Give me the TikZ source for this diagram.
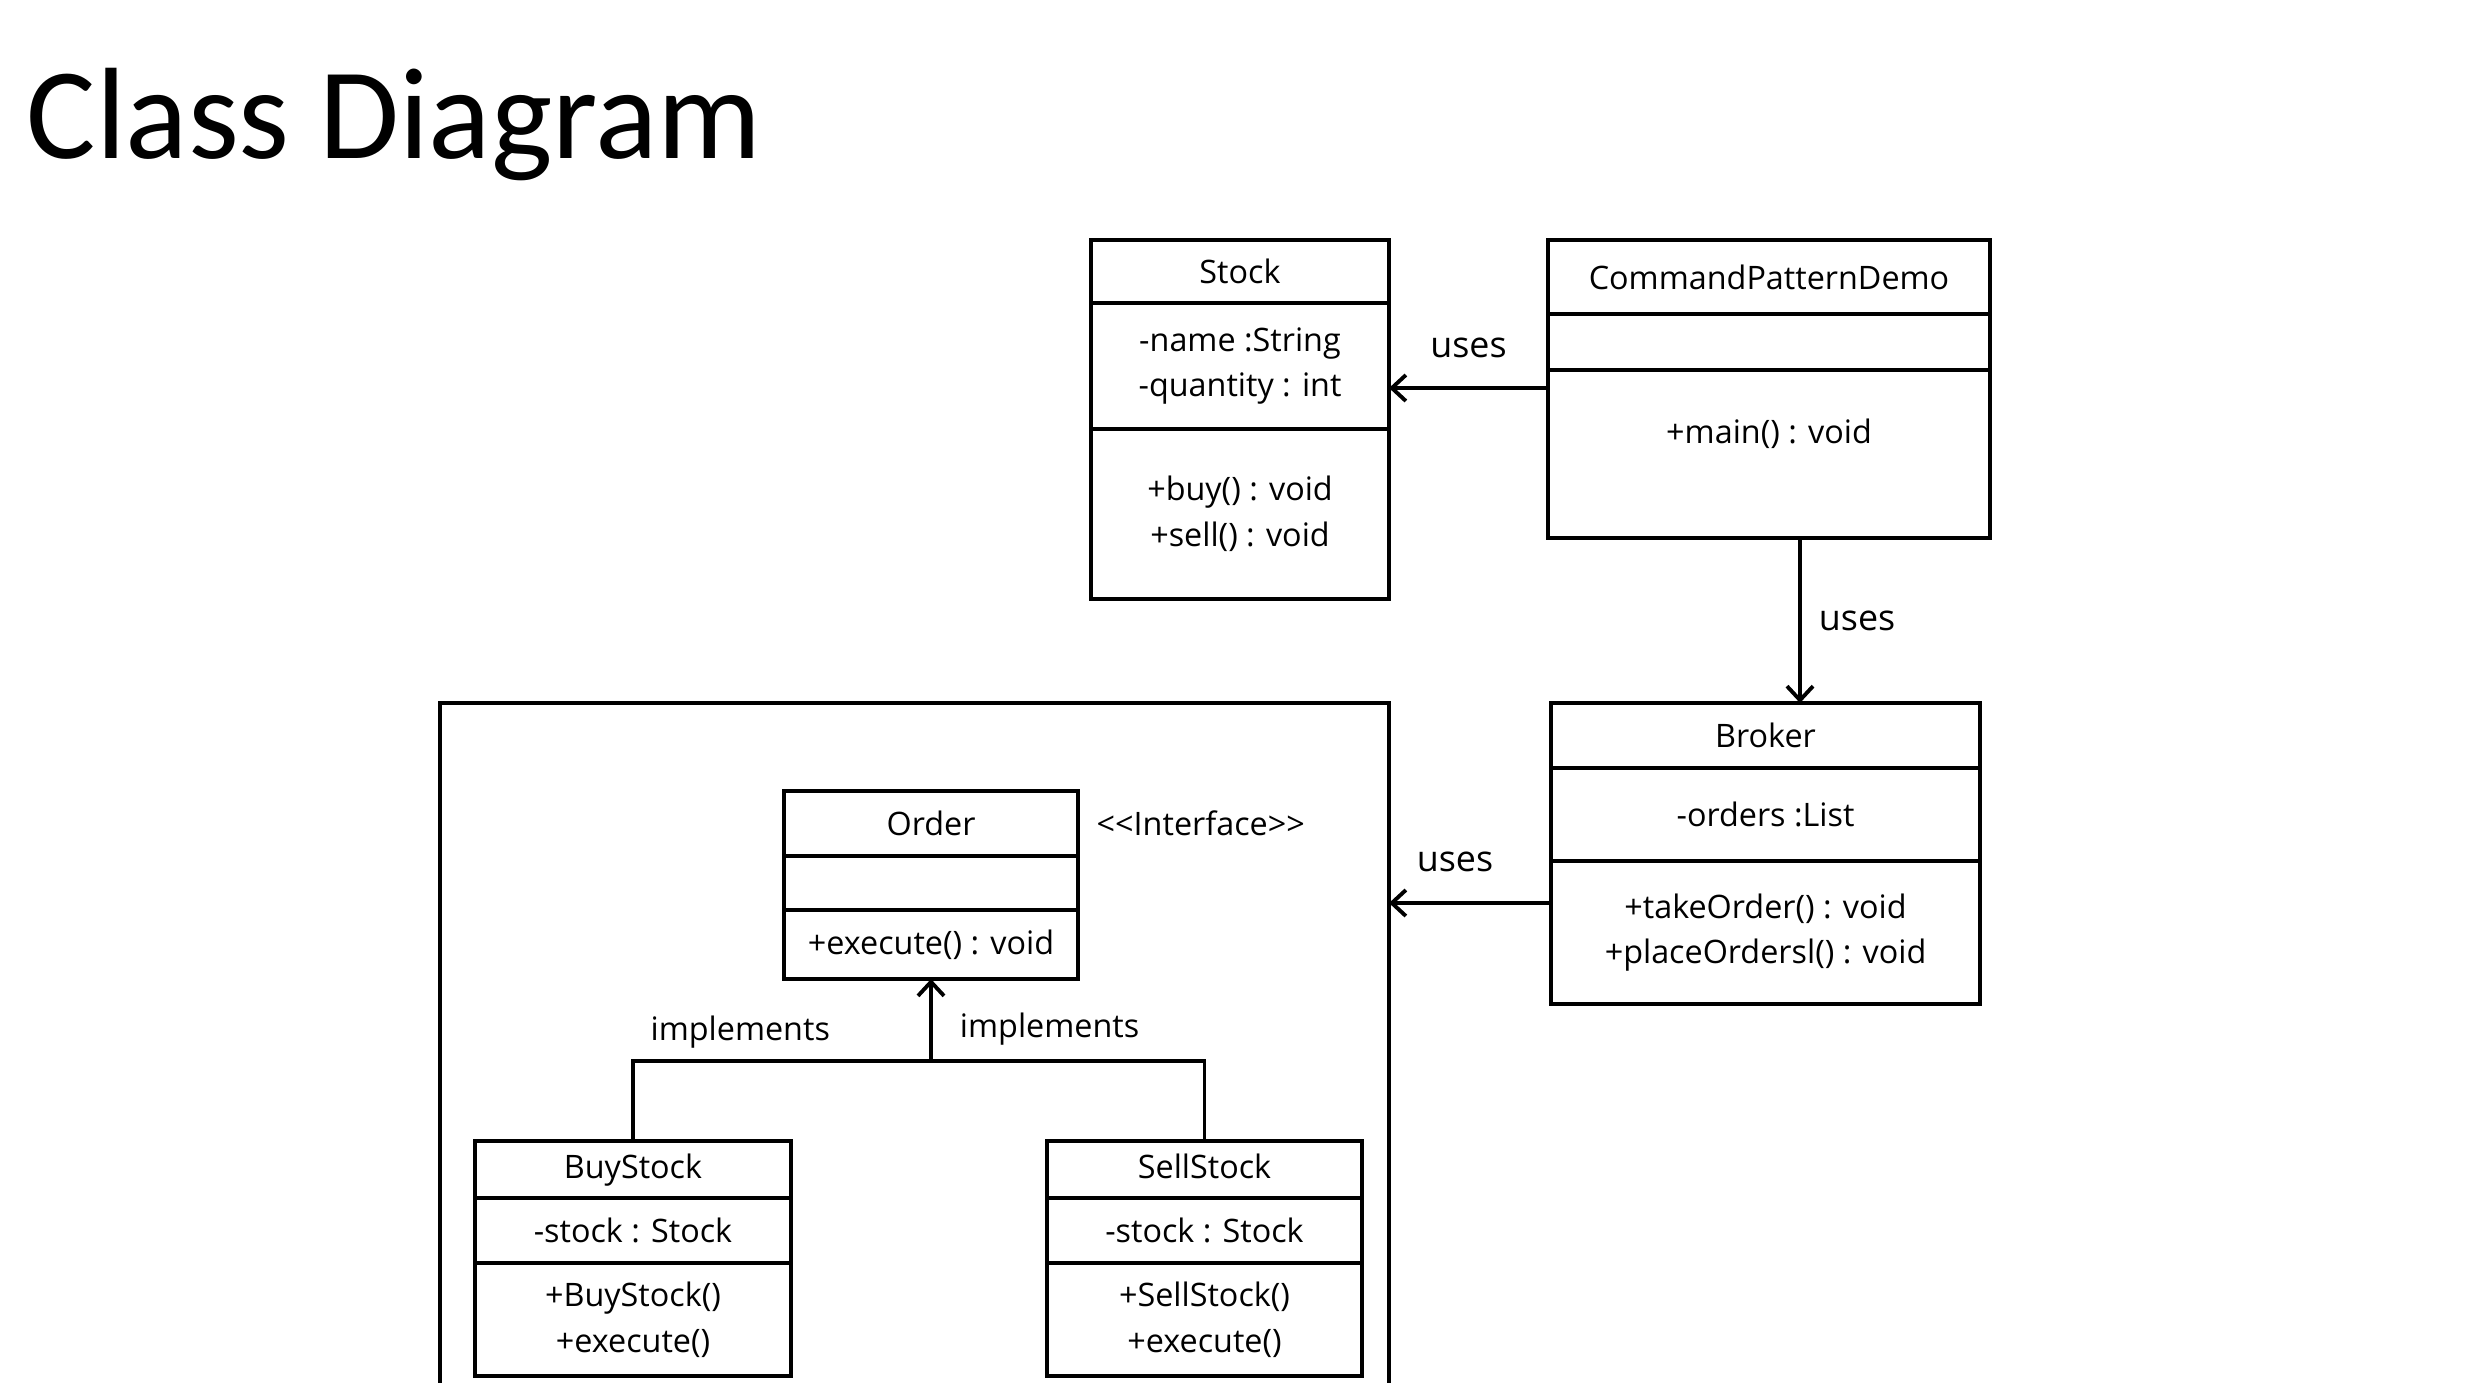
\documentclass[tikz,border=0pt]{standalone}
\usepackage{fontspec}
\setmainfont{Open Sans}
\newfontfamily\titlefont{Carlito}
\usepackage{tikz}
\usetikzlibrary{positioning,calc,arrows.meta}
\newcommand{\boxfont}{\fontsize{9.2}{13}\selectfont}
\newcommand{\usesfont}{\fontsize{10.2}{13}\selectfont}
\tikzset{CLASS/.style={rectangle,draw,line width=1.1pt,outer sep=0pt,inner sep=0pt,align=flush center,font=\boxfont,anchor=north}}
\tikzset{FRAME/.style={rectangle,draw,line width=1.1pt,outer sep=0pt,anchor=north}}
\tikzset{ARROW/.style={line width=1.1pt, -{Straight Barb[length=1.4mm,width=2.6mm,line width=1.1pt]}}}
\tikzset{LINE/.style={line width=1.1pt}}
\tikzset{LABEL/.style={inner sep=0pt,font=\boxfont}}
\tikzset{USES/.style={inner sep=0pt,font=\usesfont}}

\begin{document}
\begin{tikzpicture}

\useasboundingbox (0,0) rectangle (24.72,-13.82);

\node[anchor=base west, inner sep=0pt, font=\titlefont\fontsize{37}{40}\selectfont] (n_title) at (0.26,-1.58) {Class Diagram};

\node[CLASS, minimum width=2.98cm, minimum height=0.63cm] (n_stock) at (12.40,-2.40) {Stock};
\node[CLASS, minimum width=2.98cm, minimum height=1.26cm, below=0pt of n_stock] (n_stock_attr) {-name :String\\-quantity : int};
\node[CLASS, minimum width=2.98cm, minimum height=1.70cm, below=0pt of n_stock_attr] (n_stock_ops) {+buy() : void\\+sell() : void};

\node[CLASS, minimum width=4.42cm, minimum height=0.74cm] (n_demo) at (17.69,-2.40) {CommandPatternDemo};
\node[CLASS, minimum width=4.42cm, minimum height=0.56cm, below=0pt of n_demo] (n_demo_attr) {};
\node[CLASS, minimum width=4.42cm, minimum height=1.68cm, below=0pt of n_demo_attr] (n_demo_ops) {+main() : void\\~};

\node[CLASS, minimum width=4.29cm, minimum height=0.65cm] (n_broker) at (17.655,-7.03) {Broker};
\node[CLASS, minimum width=4.29cm, minimum height=0.93cm, below=0pt of n_broker] (n_broker_attr) {-orders :List};
\node[CLASS, minimum width=4.29cm, minimum height=1.43cm, below=0pt of n_broker_attr] (n_broker_ops) {+takeOrder() : void\\+placeOrdersl() : void};

\node[FRAME, minimum width=9.49cm, minimum height=7.6cm] (n_frame) at (9.145,-7.03) {};

\node[CLASS, minimum width=2.94cm, minimum height=0.65cm] (n_order) at (9.31,-7.91) {Order};
\node[CLASS, minimum width=2.94cm, minimum height=0.54cm, below=0pt of n_order] (n_order_attr) {};
\node[CLASS, minimum width=2.94cm, minimum height=0.69cm, below=0pt of n_order_attr] (n_order_ops) {+execute() : void};
\node[LABEL, right=0.18cm of n_order] (n_interface) {\textless\kern0pt\textless Interface\textgreater\kern0pt\textgreater};

\node[CLASS, minimum width=3.16cm, minimum height=0.57cm] (n_buy) at (6.33,-11.41) {\strut BuyStock};
\node[CLASS, minimum width=3.16cm, minimum height=0.65cm, below=0pt of n_buy] (n_buy_attr) {-stock : Stock};
\node[CLASS, minimum width=3.16cm, minimum height=1.13cm, below=0pt of n_buy_attr] (n_buy_ops) {+BuyStock()\\+execute()};

\node[CLASS, minimum width=3.15cm, minimum height=0.57cm] (n_sell) at (12.045,-11.41) {\strut SellStock};
\node[CLASS, minimum width=3.15cm, minimum height=0.65cm, below=0pt of n_sell] (n_sell_attr) {-stock : Stock};
\node[CLASS, minimum width=3.15cm, minimum height=1.13cm, below=0pt of n_sell_attr] (n_sell_ops) {+SellStock()\\+execute()};

\coordinate (c_demo_left) at ($(n_demo_ops.north west)+(0,-0.18)$);
\draw[ARROW] (c_demo_left) -- (c_demo_left-|n_stock_attr.east) node[USES,midway,above=0.28cm]{uses};

\coordinate (c_demo_down) at ($(n_demo_ops.south)+(0.31,0)$);
\draw[ARROW] (c_demo_down) -- (c_demo_down|-n_broker.north) node[USES,midway,right=0.17cm]{uses};

\coordinate (c_broker_left) at ($(n_broker_ops.north west)+(0,-0.42)$);
\draw[ARROW] (c_broker_left) -- (c_broker_left-|n_frame.east) node[USES,midway,above=0.29cm,xshift=-0.15cm]{uses};

\coordinate (c_join) at ($(n_order_ops.south)+(0,-0.82)$);
\draw[LINE] (n_buy.north) |- (c_join) node[LABEL,pos=0.68,above=0.11cm]{implements};
\draw[LINE] (c_join) -| (n_sell.north);
\draw[ARROW] (c_join) -- (n_order_ops.south) node[LABEL,midway,right=0.27cm,yshift=-0.09cm]{implements};

\end{tikzpicture}
\end{document}
